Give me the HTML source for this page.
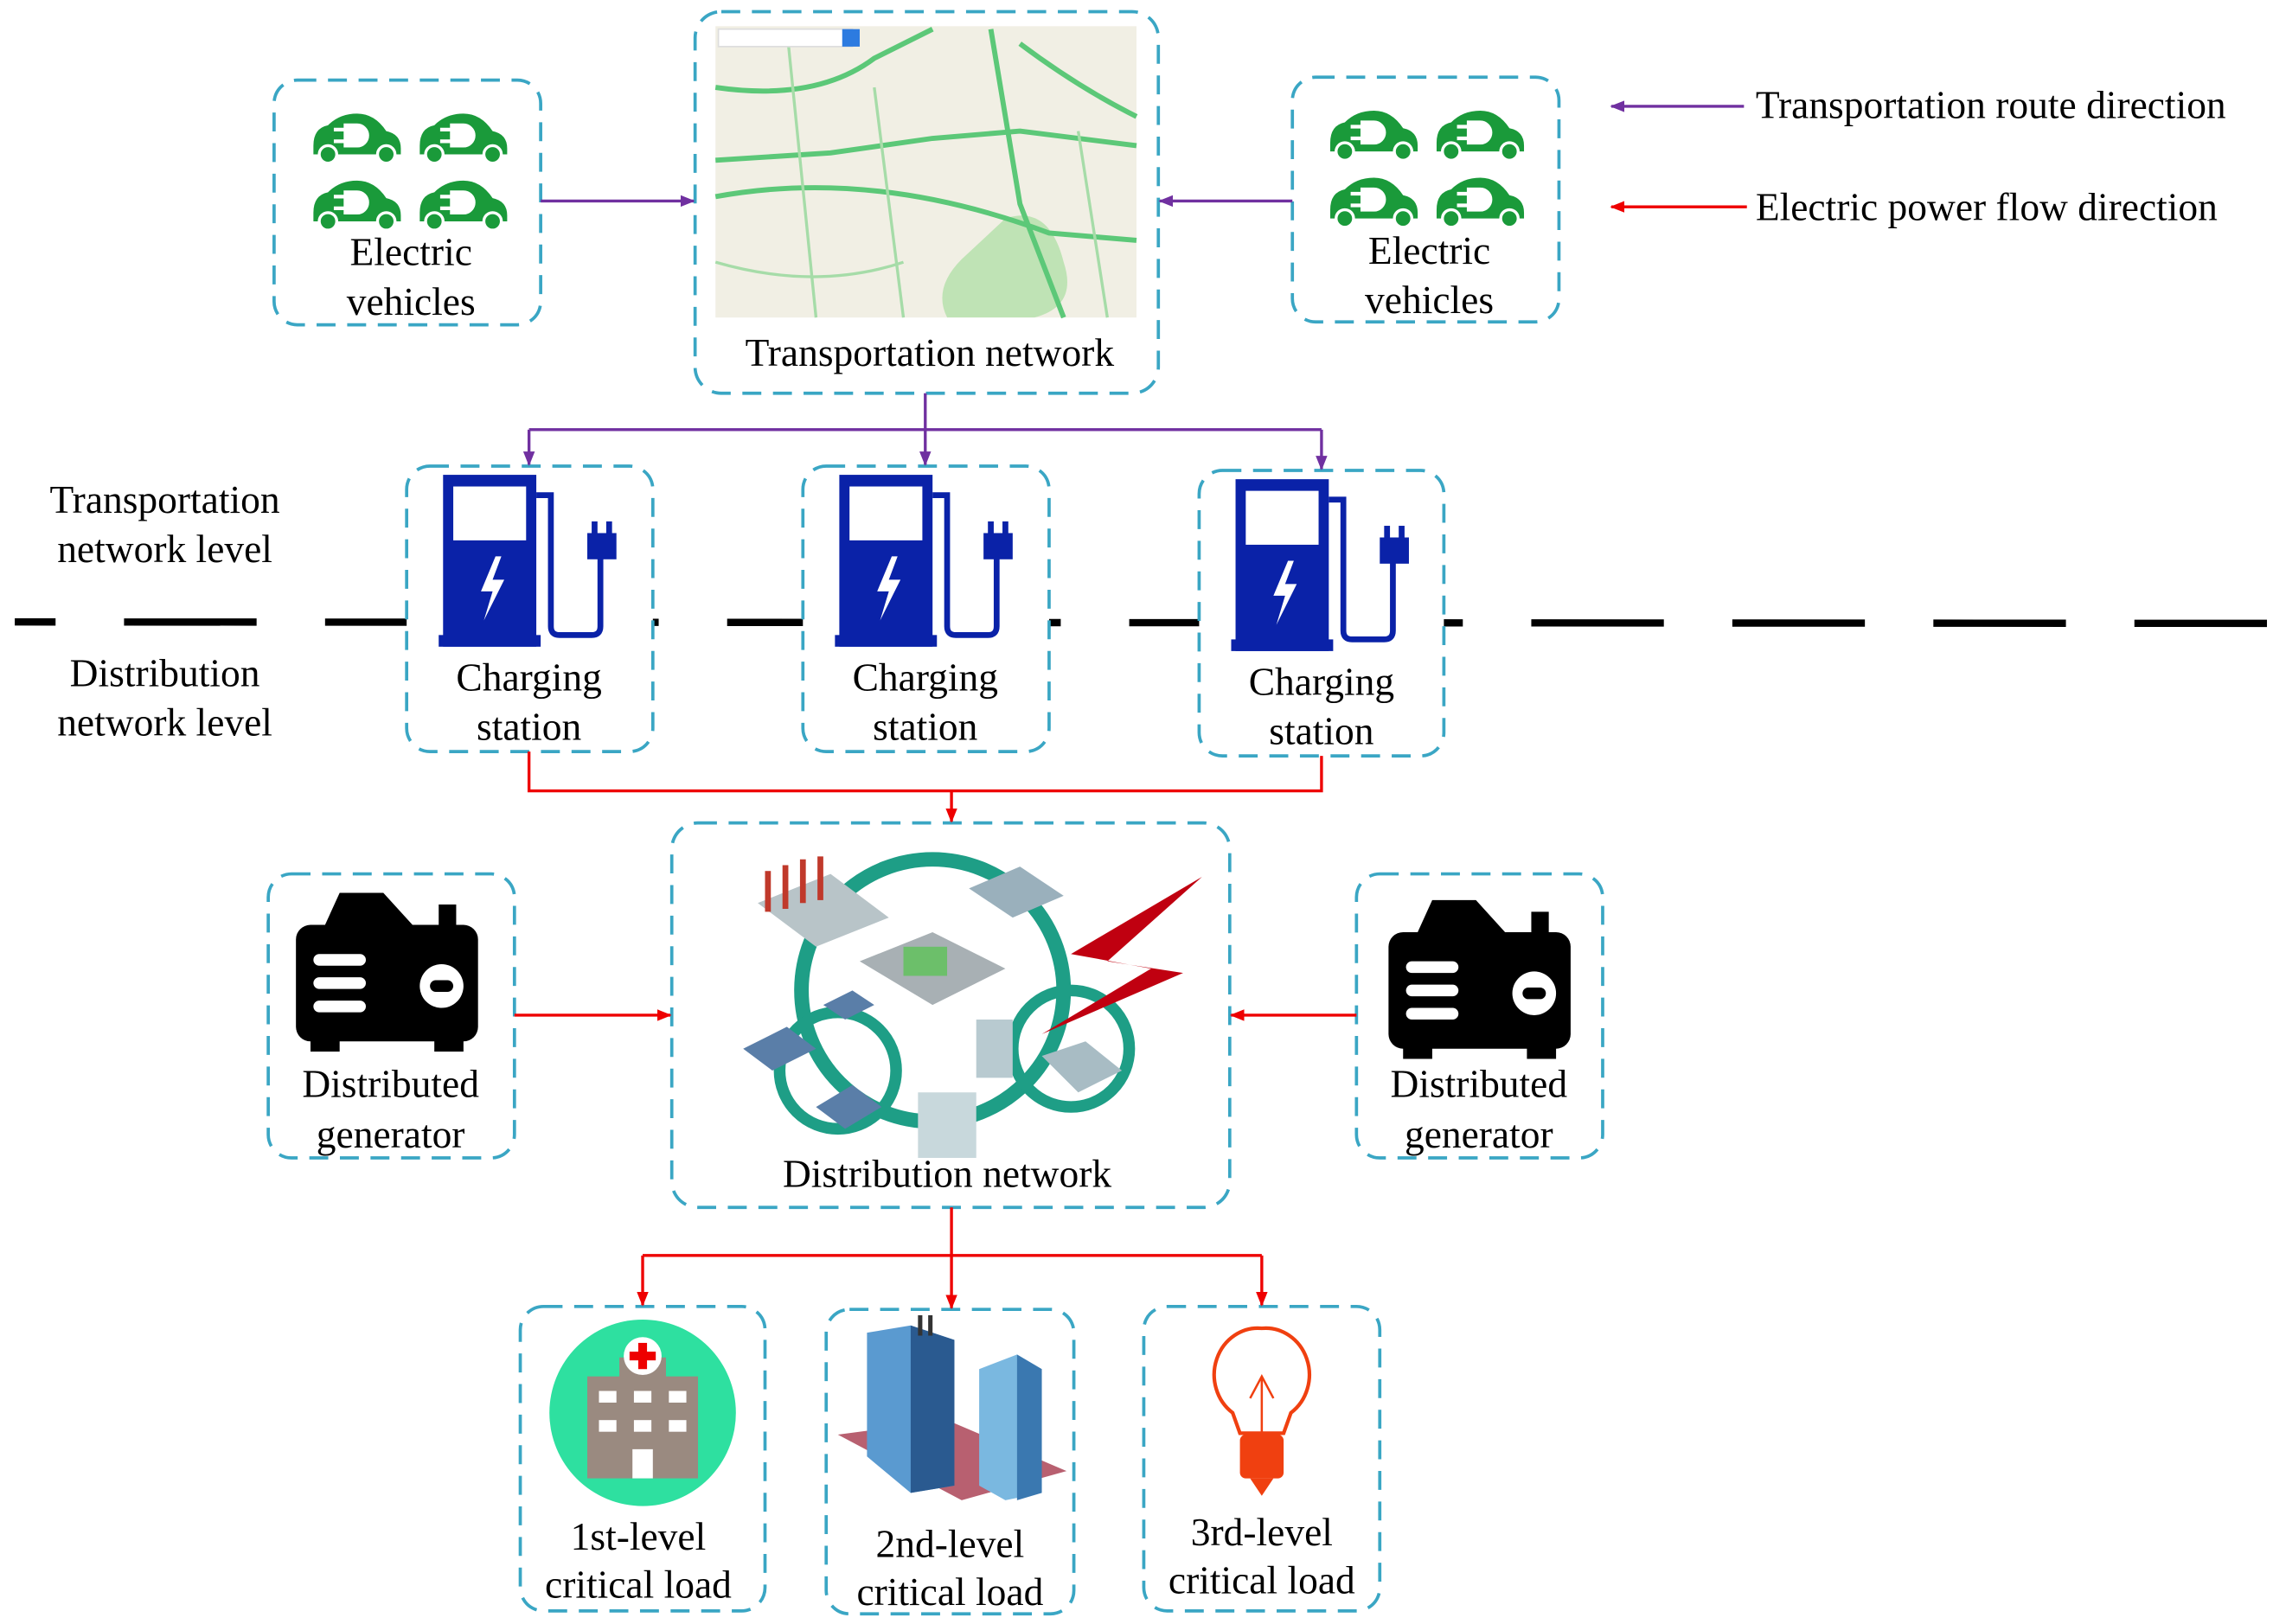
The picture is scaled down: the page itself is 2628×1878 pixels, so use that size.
<!DOCTYPE html>
<html><head><meta charset="utf-8"><style>html,body{margin:0;padding:0;background:#fff}svg{display:block}text{font-family:"Liberation Serif",serif;font-size:27px}</style></head><body>
<svg xmlns="http://www.w3.org/2000/svg" width="2628" height="1878" viewBox="0 0 1560 1115">
<defs>
<marker id="ap" markerWidth="10" markerHeight="8" refX="9" refY="4" orient="auto" markerUnits="userSpaceOnUse"><path d="M0,0L10,4L0,8Z" fill="#7030a0"/></marker>
<marker id="ar" markerWidth="10" markerHeight="8" refX="9" refY="4" orient="auto" markerUnits="userSpaceOnUse"><path d="M0,0L10,4L0,8Z" fill="#e00"/></marker>
<g id="car"><path d="M0,22 Q0,10 10,8 Q18,0 30,0 Q42,0 50,12 Q60,14 60,24 L60,28 L0,28Z" fill="#1a9a3a"/><circle cx="10" cy="28" r="6" fill="#1a9a3a" stroke="#fff" stroke-width="2"/><circle cx="50" cy="28" r="6" fill="#1a9a3a" stroke="#fff" stroke-width="2"/><path d="M22,8 h8 a7,7 0 0 1 0,14 h-8Z M14,11h8 M14,19h8" fill="#fff" stroke="#fff" stroke-width="2.5"/></g>
<g id="pump"><rect x="0" y="0" width="64" height="118" fill="#0a22a8"/><rect x="-3" y="110" width="70" height="8" fill="#0a22a8"/><rect x="7" y="8" width="50" height="37" fill="#fff"/><path d="M36,56 L26,80 L34,80 L28,100 L42,72 L34,72 L40,56Z" fill="#fff"/><path d="M64,14 h10 v90 q0,6 6,6 h22 q6,0 6,-6 v-50" fill="none" stroke="#0a22a8" stroke-width="4"/><rect x="99" y="40" width="20" height="18" fill="#0a22a8"/><rect x="102" y="32" width="4" height="10" fill="#0a22a8"/><rect x="112" y="32" width="4" height="10" fill="#0a22a8"/></g>
<g id="gen"><rect x="0" y="28" width="125" height="80" rx="10" fill="#000"/><path d="M20,28 L30,6 L60,6 L80,28Z" fill="#000"/><rect x="98" y="14" width="12" height="16" fill="#000"/><rect x="10" y="105" width="20" height="10" fill="#000"/><rect x="95" y="105" width="20" height="10" fill="#000"/><rect x="12" y="48" width="36" height="8" rx="4" fill="#fff"/><rect x="12" y="64" width="36" height="8" rx="4" fill="#fff"/><rect x="12" y="80" width="36" height="8" rx="4" fill="#fff"/><circle cx="100" cy="70" r="15" fill="#fff"/><rect x="92" y="66" width="16" height="8" rx="4" fill="#000"/></g>
</defs>
<!-- dashed level line -->
<line x1="10" y1="427" x2="1558" y2="428" stroke="#000" stroke-width="5" stroke-dasharray="91,47" stroke-dashoffset="63"/>
<g fill="#fff" stroke="#3aa6c4" stroke-width="2.2" stroke-dasharray="13,8">
<rect x="188" y="55" width="183" height="168" rx="16"/>
<rect x="477" y="8" width="318" height="262" rx="18"/>
<rect x="887" y="53" width="183" height="168" rx="16"/>
<rect x="279" y="320" width="169" height="196" rx="16"/>
<rect x="551" y="320" width="169" height="196" rx="16"/>
<rect x="823" y="323" width="168" height="196" rx="16"/>
<rect x="461" y="565" width="383" height="264" rx="18"/>
<rect x="184" y="600" width="169" height="195" rx="16"/>
<rect x="931" y="600" width="169" height="195" rx="16"/>
<rect x="357" y="897" width="168" height="209" rx="16"/>
<rect x="567" y="899" width="170" height="209" rx="16"/>
<rect x="785" y="897" width="162" height="209" rx="16"/>
</g>
<use href="#car" x="215" y="78"/><use href="#car" x="288" y="78"/><use href="#car" x="215" y="124"/><use href="#car" x="288" y="124"/>
<use href="#car" x="913" y="76"/><use href="#car" x="986" y="76"/><use href="#car" x="913" y="122"/><use href="#car" x="986" y="122"/>
<!-- map -->
<rect x="491" y="18" width="289" height="200" fill="#f1efe4"/>
<path d="M690,150 q30,-10 40,30 q10,30 -20,38 h-60 q-10,-20 10,-40Z" fill="#bfe3b5"/>
<g fill="none" stroke="#5cc878" stroke-width="3.5"><path d="M491,135 Q600,115 720,160 L780,165"/><path d="M680,20 L700,140 L730,218"/><path d="M491,60 Q560,70 600,40 L640,20"/><path d="M700,30 Q740,60 780,80"/><path d="M491,110 L570,105 L640,95 L700,90 L780,100"/></g>
<g fill="none" stroke="#a6dca8" stroke-width="2"><path d="M540,20 L560,218"/><path d="M600,60 L620,218"/><path d="M740,90 L760,218"/><path d="M491,180 Q560,200 620,180"/></g>
<rect x="493" y="20" width="92" height="12" fill="#fff" stroke="#ddd"/><rect x="578" y="20" width="12" height="12" fill="#2d7be0"/>
<use href="#pump" x="304" y="326"/><use href="#pump" x="576" y="326"/><use href="#pump" x="848" y="329"/>
<use href="#gen" x="203" y="607"/><use href="#gen" x="953" y="612"/>
<!-- distribution network image -->
<g>
<circle cx="640" cy="680" r="90" fill="none" stroke="#1e9e86" stroke-width="10"/>
<circle cx="575" cy="735" r="40" fill="none" stroke="#1e9e86" stroke-width="8"/>
<circle cx="735" cy="720" r="40" fill="none" stroke="#1e9e86" stroke-width="8"/>
<path d="M520,620 L570,600 L610,630 L560,650Z" fill="#b8c4c8"/>
<g fill="#c0392b"><rect x="525" y="598" width="4" height="28"/><rect x="537" y="594" width="4" height="30"/><rect x="549" y="590" width="4" height="30"/><rect x="561" y="588" width="4" height="30"/></g>
<path d="M590,660 L640,640 L690,665 L640,690Z" fill="#a8b0b4"/><rect x="620" y="650" width="30" height="20" fill="#6cbf6a"/>
<path d="M665,610 L700,595 L730,615 L695,630Z" fill="#9ab0bc"/>
<path d="M510,720 L540,705 L560,720 L530,735Z" fill="#5a7ea8"/><path d="M560,760 L585,745 L605,760 L580,775Z" fill="#5a7ea8"/><path d="M565,690 L585,680 L600,690 L580,700Z" fill="#5a7ea8"/>
<path d="M630,750 h40 v45 h-40Z" fill="#c8d8dc"/><path d="M670,700 h25 v40 h-25Z" fill="#b8cad0"/><path d="M715,725 L745,715 L770,735 L740,750Z" fill="#a8bcc4"/>
<path d="M825,602 L735,655 L790,665 L715,710 L812,668 L760,660Z" fill="#c00010"/>
</g>
<!-- hospital -->
<circle cx="441" cy="970" r="64" fill="#2ee0a0"/>
<rect x="403" y="945" width="76" height="70" fill="#9a8a80"/><rect x="425" y="932" width="32" height="15" fill="#9a8a80"/>
<circle cx="441" cy="931" r="13" fill="#fff"/><rect x="438" y="922" width="6" height="18" fill="#e00"/><rect x="432" y="928" width="18" height="6" fill="#e00"/>
<g fill="#fff"><rect x="411" y="955" width="12" height="8"/><rect x="435" y="955" width="12" height="8"/><rect x="459" y="955" width="12" height="8"/><rect x="411" y="975" width="12" height="8"/><rect x="435" y="975" width="12" height="8"/><rect x="459" y="975" width="12" height="8"/><rect x="434" y="995" width="14" height="20"/></g>
<!-- buildings -->
<path d="M575,985 L660,1030 L732,1010 L650,975Z" fill="#b86070"/>
<path d="M595,915 L625,910 L655,920 L655,1020 L625,1025 L595,1000Z" fill="#5a9ad0"/><path d="M625,910 L655,920 L655,1020 L625,1025Z" fill="#2a5a90"/>
<path d="M672,940 L698,930 L715,940 L715,1025 L690,1030 L672,1020Z" fill="#7ab8e0"/><path d="M698,930 L715,940 L715,1025 L698,1030Z" fill="#3a78b0"/>
<rect x="630" y="903" width="3" height="14" fill="#333"/><rect x="637" y="903" width="3" height="14" fill="#333"/>
<!-- bulb -->
<path d="M866,912 a30,32 0 0 0 -20,58 l5,14 h30 l5,-14 a30,32 0 0 0 -20,-58Z" fill="#fff" stroke="#f04010" stroke-width="2.5"/>
<path d="M858,960 l8,-15 l8,15 M866,945 v40" fill="none" stroke="#f04010" stroke-width="1.5"/>
<rect x="851" y="985" width="30" height="30" rx="4" fill="#f04010"/><path d="M858,1015 h16 l-8,12Z" fill="#f04010"/>
<!-- connectors -->
<g stroke="#7030a0" stroke-width="2" fill="none">
<line x1="371" y1="138" x2="476" y2="138" marker-end="url(#ap)"/>
<line x1="887" y1="138" x2="796" y2="138" marker-end="url(#ap)"/>
<path d="M635,270 V295 M363,295 H907"/>
<line x1="363" y1="295" x2="363" y2="319" marker-end="url(#ap)"/>
<line x1="635" y1="295" x2="635" y2="319" marker-end="url(#ap)"/>
<line x1="907" y1="295" x2="907" y2="322" marker-end="url(#ap)"/>
<line x1="1197" y1="73" x2="1106" y2="73" marker-end="url(#ap)"/>
</g>
<g stroke="#e00" stroke-width="2" fill="none">
<path d="M363,516 V543 H907 V519"/>
<line x1="653" y1="543" x2="653" y2="564" marker-end="url(#ar)"/>
<line x1="353" y1="697" x2="460" y2="697" marker-end="url(#ar)"/>
<line x1="931" y1="697" x2="845" y2="697" marker-end="url(#ar)"/>
<path d="M653,829 V862 M441,862 H866"/>
<line x1="441" y1="862" x2="441" y2="896" marker-end="url(#ar)"/>
<line x1="653" y1="862" x2="653" y2="898" marker-end="url(#ar)"/>
<line x1="866" y1="862" x2="866" y2="896" marker-end="url(#ar)"/>
<line x1="1199" y1="142" x2="1106" y2="142" marker-end="url(#ar)"/>
</g>
<!-- text -->
<g text-anchor="middle" fill="#000">
<text x="282" y="182">Electric</text><text x="282" y="216">vehicles</text>
<text x="981" y="181">Electric</text><text x="981" y="215">vehicles</text>
<text x="638" y="251">Transportation network</text>
<text x="113" y="352">Transportation</text><text x="113" y="386">network level</text>
<text x="113" y="471">Distribution</text><text x="113" y="505">network level</text>
<text x="363" y="474">Charging</text><text x="363" y="508">station</text>
<text x="635" y="474">Charging</text><text x="635" y="508">station</text>
<text x="907" y="477">Charging</text><text x="907" y="511">station</text>
<text x="650" y="815">Distribution network</text>
<text x="268" y="753">Distributed</text><text x="268" y="788">generator</text>
<text x="1015" y="753">Distributed</text><text x="1015" y="788">generator</text>
<text x="438" y="1064">1st-level</text><text x="438" y="1097">critical load</text>
<text x="652" y="1069">2nd-level</text><text x="652" y="1102">critical load</text>
<text x="866" y="1061">3rd-level</text><text x="866" y="1094">critical load</text>
</g>
<text x="1205" y="81">Transportation route direction</text>
<text x="1205" y="151">Electric power flow direction</text>
</svg>
</body></html>
